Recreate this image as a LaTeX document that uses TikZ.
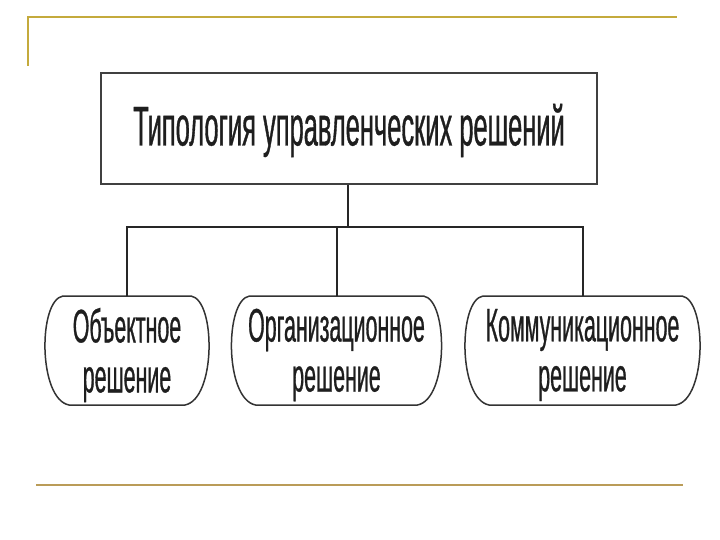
\documentclass[tikz,border=0pt]{standalone}
\usepackage{fontspec}
\usetikzlibrary{calc}
\newfontfamily\narrowfont[FakeStretch=0.455,FakeBold=0.6]{Liberation Sans}
\definecolor{goldtop}{RGB}{196,170,60}
\definecolor{goldbot}{RGB}{186,156,88}
\definecolor{inkcol}{RGB}{30,30,30}
\newcommand\bulgebox[2]{%
  \draw[shapeline] ($(#1)+(-#2+18,-59)$) -- ($(#1)+(#2-18,-59)$)
    .. controls ($(#1)+(#2+7,-55)$) and ($(#1)+(#2+7,44)$) .. ($(#1)+(#2-24,50)$)
    -- ($(#1)+(-#2+24,50)$)
    .. controls ($(#1)+(-#2-7,44)$) and ($(#1)+(-#2-7,-55)$) .. cycle;}
\begin{document}
\begin{tikzpicture}[x=1pt,y=-1pt,
  frametop/.style={draw=goldtop,line width=2pt},
  framebot/.style={draw=goldbot,line width=2pt},
  titlebox/.style={draw=black!75,line width=2pt,minimum width=496pt,minimum height=111pt,inner sep=0pt},
  titletext/.style={inner sep=0pt,text=inkcol,font=\narrowfont\fontsize{56}{60}\selectfont},
  leaftext/.style={inner sep=0pt,text=inkcol,align=center,font=\narrowfont\fontsize{47}{50}\selectfont},
  shapeline/.style={draw=black!80,line width=1.5pt},
  conn/.style={draw=black!85,line width=2pt}]
\useasboundingbox (0,0) rectangle (720,540);
\fill[white] (0,0) rectangle (720,540);
% frame lines
\draw[frametop] (27,17) -- (677,17);
\draw[frametop] (28,17) -- (28,66);
\draw[framebot] (36,485) -- (683,485);
% title
\node[titlebox] (title) at (349,128.5) {};
\node[titletext] (titletext) at (349,130.5) {Типология управленческих решений};
% leaves
\node[leaftext] (obj) at (127,355) {Объектное\\решение};
\node[leaftext] (org) at (336.5,355) {Организационное\\решение};
\node[leaftext] (com) at (582.5,355) {Коммуникационное\\решение};
\bulgebox{obj}{82}
\bulgebox{org}{105}
\bulgebox{com}{117.5}
\coordinate (objtop) at ($(obj)+(0,-59)$);
\coordinate (orgtop) at ($(org)+(0,-59)$);
\coordinate (comtop) at ($(com)+(0,-59)$);
\coordinate (junc) at (348,227);
% connectors
\draw[conn] (title.south -| junc) -- (junc);
\draw[conn] (objtop) -- (objtop |- junc) -- (comtop |- junc) -- (comtop);
\draw[conn] (orgtop) -- (orgtop |- junc);
\end{tikzpicture}
\end{document}
